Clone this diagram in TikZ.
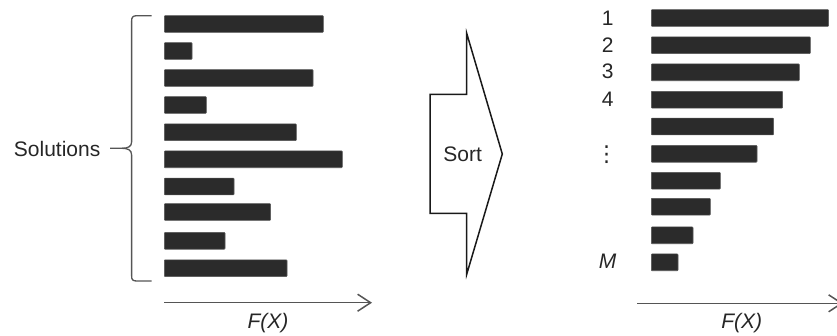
\documentclass[tikz,border=0pt]{standalone}
\usepackage{fontspec}
\setmainfont{Liberation Sans}
\newfontfamily\symfont{DejaVu Sans}
\usetikzlibrary{arrows.meta}
\definecolor{barc}{HTML}{2B2B2B}
\definecolor{linec}{HTML}{555555}
\tikzset{
  bar/.style={fill=barc, draw=barc!80, line width=0.6pt, rounded corners=0.8pt, inner sep=0pt, minimum height=16.8pt, anchor=west},
  lbl/.style={font=\fontsize{21}{24}\selectfont, inner sep=0pt, text=black!85},
  axis/.style={draw=linec, line width=1.5pt, -{Straight Barb[length=13pt,width=17pt,line width=1.5pt]}},
  bracec/.style={draw=linec, line width=1.3pt},
  sortarrow/.style={draw=black!90, line width=1.5pt, line join=miter}
}
\begin{document}
\begin{tikzpicture}[x=1pt,y=-1pt]
\useasboundingbox (0,0) rectangle (837,335);
% left bars
\foreach \i/\y/\r in {1/24/323,2/51/191.7,3/78/312.7,4/105/206,5/132.2/296,6/159.3/342,7/186.5/233.7,8/212/270.3,9/240.8/224.7,10/268.2/286.7}{
  \pgfmathsetmacro\w{\r-164}
  \node[bar, minimum width=\w pt] (L\i) at (164,\y) {};
}
% brace
\node[lbl, anchor=east] (sol) at (100.5,149) {Solutions};
\coordinate (btop) at (151.5,15.7);
\coordinate (bbot) at (151.5,281);
\coordinate (btip) at (110,148.3);
\draw[bracec] (btop) -- (137,15.7) .. controls (133,15.7) and (131.6,17) .. (131.6,21) -- (131.6,142)
  .. controls (131.6,146.5) and (128,148.3) .. (122,148.3) -- (btip);
\draw[bracec] (122,148.3) .. controls (128,148.3) and (131.6,150) .. (131.6,155) -- (131.6,276)
  .. controls (131.6,280) and (133,281) .. (137,281) -- (bbot);
% left axis
\coordinate (la1) at (164,302.7);
\coordinate (la2) at (372,302.7);
\draw[axis] (la1) -- (la2);
\node[lbl, font=\fontsize{21}{24}\selectfont\itshape] (fxl) at (268,323) {F(X)};
% sort arrow
\draw[sortarrow] (430,94.3) -- (466.7,94.3) -- (466.7,33.3) -- (502.3,154) -- (466.7,274.3) -- (466.7,213.3) -- (430,213.3) -- cycle;
\node[lbl] (sort) at (462.7,154) {Sort};
% right bars
\foreach \i/\y/\r in {1/18/828.3,2/45.2/810,3/72.3/799,4/99.7/782.3,5/126.5/773.3,6/153.8/756.7,7/180.7/720,8/206.7/710,9/235.3/692.7,10/262.3/677.7}{
  \pgfmathsetmacro\w{\r-651}
  \node[bar, minimum width=\w pt] (R\i) at (651,\y) {};
}
\node[lbl] (n1) at (607.7,18.3) {1};
\node[lbl] (n2) at (607.7,45) {2};
\node[lbl] (n3) at (607.7,71.7) {3};
\node[lbl] (n4) at (607.7,99) {4};
\node[lbl, font=\symfont\fontsize{22}{24}\selectfont] (dots) at (606.5,154.5) {⋮};
\node[lbl, font=\fontsize{21}{24}\selectfont\itshape] (nM) at (607.7,261.7) {M};
% right axis
\coordinate (ra1) at (637.3,303.3);
\coordinate (ra2) at (843,303.3);
\draw[axis] (ra1) -- (ra2);
\node[lbl, font=\fontsize{21}{24}\selectfont\itshape] (fxr) at (741.7,323) {F(X)};
\end{tikzpicture}
\end{document}
